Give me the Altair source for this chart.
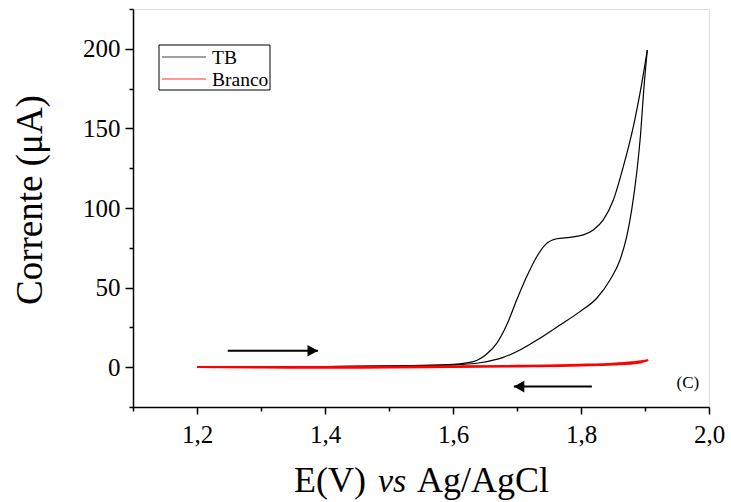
import altair as alt
import pandas as pd

# ---- data ----
tb_fwd_E = [1.20, 1.30, 1.40, 1.50, 1.55, 1.6005, 1.6317, 1.6527, 1.6683, 1.6839, 1.6995, 1.7152,
            1.7308, 1.7464, 1.762, 1.7828, 1.8036, 1.8192, 1.8348, 1.8505, 1.8661, 1.8817, 1.8948, 1.9036]
tb_fwd_I = [0.0, 0.1, 0.4, 0.8, 1.1, 1.8, 3.5, 8.3, 15.0, 26.5, 42.2, 56.9,
            69.4, 77.8, 80.7, 81.6, 83.1, 86.2, 92.5, 105.0, 126.0, 151.0, 178.0, 199.2]
tb_rev_E = [1.20, 1.30, 1.40, 1.50, 1.55, 1.6005, 1.6422, 1.6786, 1.7047, 1.7359, 1.7672, 1.7984,
            1.8245, 1.8453, 1.8609, 1.8714, 1.8792, 1.887, 1.8932, 1.8984, 1.9036]
tb_rev_I = [0.0, 0.1, 0.3, 0.7, 1.0, 1.4, 2.8, 6.2, 10.8, 18.2, 26.5, 34.9,
            43.3, 54.8, 67.3, 82.0, 98.8, 122.0, 147.0, 176.0, 199.2]
br_fwd_E = [1.20, 1.30, 1.40, 1.50, 1.60, 1.70, 1.75, 1.80, 1.85, 1.88, 1.905]
br_fwd_I = [0.0, 0.1, 0.2, 0.4, 0.6, 0.9, 1.2, 1.6, 2.3, 3.2, 4.5]
br_rev_E = [1.20, 1.30, 1.40, 1.50, 1.60, 1.70, 1.80, 1.85, 1.89, 1.905]
br_rev_I = [0.0, -0.3, -0.4, -0.3, 0.0, 0.4, 1.0, 1.6, 2.8, 4.5]

x_ticks = [1.1, 1.2, 1.3, 1.4, 1.5, 1.6, 1.7, 1.8, 1.9, 2.0]
y_ticks = [-25, 0, 25, 50, 75, 100, 125, 150, 175, 200, 225]

arrow_E_start = [1.248, 1.817]
arrow_E_end = [1.389, 1.695]
arrow_I = [10.4, -12.2]
arrow_dir = ["right", "left"]

note_text = ["(C)"]
note_E = [1.967]
note_I = [-9.9]

legend_labels = ["TB", "Branco"]
legend_colors = ["#444444", "#ff3030"]

SERIF = "Liberation Serif"

# ---- tables ----
def branch(E, I, series, br):
    return pd.DataFrame({"E": E, "I": I, "series": series, "branch": br})

tb = pd.concat([branch(tb_fwd_E, tb_fwd_I, "TB", "f"), branch(tb_rev_E, tb_rev_I, "TB", "r")])
br = pd.concat([branch(br_fwd_E, br_fwd_I, "Branco", "f"), branch(br_rev_E, br_rev_I, "Branco", "r")])
arrows = pd.DataFrame({"E": arrow_E_end, "E0": arrow_E_start, "I": arrow_I, "dir": arrow_dir})
notes = pd.DataFrame({"E": note_E, "I": note_I, "t": note_text})

xscale = alt.Scale(domain=[1.1, 2.0], nice=False, zero=False)
yscale = alt.Scale(domain=[-25, 225], nice=False, zero=False)

xaxis = alt.Axis(
    values=x_ticks, title=None, grid=False,
    labelExpr="round(datum.value*10) % 2 == 0 ? replace(format(datum.value, '.1f'), '.', ',') : ''",
    tickSize={"condition": {"test": "round(datum.value*10) % 2 == 0", "value": 7}, "value": 4},
    labelFont=SERIF, labelFontSize=25, labelColor="black", labelPadding=8,
    labelOverlap=False, labelFlush=False,
    domainColor="black", domainWidth=1.5, tickColor="black", tickWidth=1.5,
)
yaxis = alt.Axis(
    values=y_ticks, title=None, grid=False,
    labelExpr="datum.value % 50 == 0 ? format(datum.value, 'd') : ''",
    tickSize={"condition": {"test": "datum.value % 50 == 0", "value": 8}, "value": 4},
    labelFont=SERIF, labelFontSize=25, labelColor="black", labelPadding=5,
    labelOverlap=False, labelFlush=False,
    domainColor="black", domainWidth=1.5, tickColor="black", tickWidth=1.5,
)

X = alt.X("E:Q", scale=xscale, axis=xaxis)
Y = alt.Y("I:Q", scale=yscale, axis=yaxis)

tb_line = alt.Chart(tb).mark_line(interpolate="monotone", color="black", strokeWidth=1.2).encode(
    x=X, y=Y, detail="branch:N")
br_line = alt.Chart(br).mark_line(interpolate="monotone", color="#ff0000", strokeWidth=1.8).encode(
    x=X, y=Y, detail="branch:N")

arrow_rules = alt.Chart(arrows).mark_rule(color="black", strokeWidth=2).encode(
    x=X, x2="E0:Q", y=Y)
arrow_heads = alt.Chart(arrows).mark_point(filled=True, color="black", opacity=1, size=110).encode(
    x=X, y=Y,
    shape=alt.Shape("dir:N", scale=alt.Scale(domain=["right", "left"],
                                              range=["M-2,-1.1L0,0L-2,1.1Z", "M2,-1.1L0,0L2,1.1Z"]),
                    legend=None))

note = alt.Chart(notes).mark_text(font=SERIF, fontSize=17, color="black").encode(
    x=X, y=Y, text="t:N")

# ---- legend (drawn by hand) ----
one = pd.DataFrame({"a": [0]})
leg_box = alt.Chart(one).mark_rect(fill="white", stroke="black", strokeWidth=1).encode(
    x=alt.value(26), x2=alt.value(137), y=alt.value(36), y2=alt.value(81))

def leg_row(label, color, ypix):
    line = alt.Chart(one).mark_rule(strokeWidth=1.2, color=color).encode(
        x=alt.value(29), x2=alt.value(73), y=alt.value(ypix))
    text = alt.Chart(pd.DataFrame({"t": [label]})).mark_text(
        font=SERIF, fontSize=19.5, align="left", baseline="middle", color="black", dy=1).encode(
        x=alt.value(79), y=alt.value(ypix), text="t:N")
    return [line, text]

leg_layers = leg_row(legend_labels[0], legend_colors[0], 48) + leg_row(legend_labels[1], legend_colors[1], 70)

# ---- axis titles (mixed italic) ----
def txt(s, x, y, style="normal", angle=0, align="left", size=36):
    return alt.Chart(pd.DataFrame({"t": [s]})).mark_text(
        font=SERIF, fontSize=size, fontStyle=style, align=align, baseline="alphabetic",
        angle=angle, color="black").encode(x=alt.value(x), y=alt.value(y), text="t:N")

xt1 = txt("E(V)", 161, 483)
xt2 = txt("vs", 245, 483, style="italic", size=34)
xt3 = txt("Ag/AgCl", 284, 483)
yt = txt("Corrente (μA)", -91, 191, angle=270, align="center", size=37)

chart = alt.layer(
    tb_line, br_line, arrow_rules, arrow_heads, note,
    leg_box, *leg_layers, xt1, xt2, xt3, yt,
).properties(
    width=576, height=398,
    padding={"left": 133, "top": 9, "right": 22, "bottom": 95},
    autosize=alt.AutoSizeParams(type="none"),
).configure_view(stroke="black", strokeWidth=1.5).configure(background="white")

chart.save("out.html", embed_options={"renderer": "svg", "actions": False})
